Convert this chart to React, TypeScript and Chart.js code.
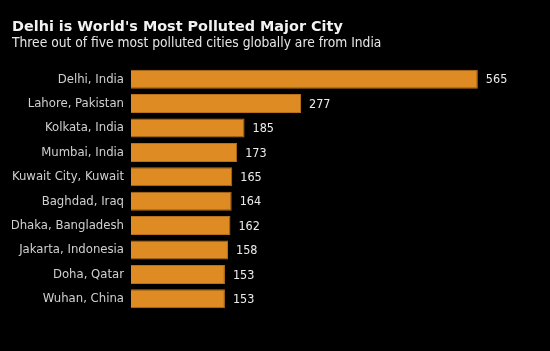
import React, { useEffect, useRef } from "react";
import { Chart, registerables } from "chart.js";

Chart.register(...registerables);

const TITLE = "Delhi is World's Most Polluted Major City";
const SUBTITLE = "Three out of five most polluted cities globally are from India";
const cities = [
  "Delhi, India",
  "Lahore, Pakistan",
  "Kolkata, India",
  "Mumbai, India",
  "Kuwait City, Kuwait",
  "Baghdad, Iraq",
  "Dhaka, Bangladesh",
  "Jakarta, Indonesia",
  "Doha, Qatar",
  "Wuhan, China",
];
const values = [565, 277, 185, 173, 165, 164, 162, 158, 153, 153];

const FONT = "'DejaVu Sans Condensed', 'DejaVu Sans', sans-serif";
const TFONT = "'DejaVu Sans', sans-serif";

export default function App() {
  const ref = useRef<HTMLCanvasElement | null>(null);
  useEffect(() => {
    document.body.style.margin = "0";
    document.body.style.background = "#000";
    const canvas = ref.current!;
    const textPlugin = {
      id: "texts",
      afterDraw(chart: any) {
        const ctx = chart.ctx;
        ctx.save();
        ctx.fillStyle = "#f2f2f2";
        ctx.textAlign = "left";
        ctx.textBaseline = "alphabetic";
        ctx.font = `bold 14.4px ${TFONT}`;
        ctx.fillText(TITLE, 12, 31);
        ctx.font = `13.7px ${FONT}`;
        ctx.fillStyle = "#e6e6e6";
        ctx.fillText(SUBTITLE, 12, 47);
        const meta = chart.getDatasetMeta(0);
        ctx.font = `12.5px ${FONT}`;
        ctx.fillStyle = "#ececec";
        ctx.textBaseline = "middle";
        meta.data.forEach((bar: any, i: number) => {
          ctx.fillText(String(values[i]), bar.x + 8, bar.y + 1);
        });
        ctx.restore();
      },
    };
    const chart = new Chart(canvas, {
      type: "bar",
      data: {
        labels: cities,
        datasets: [
          {
            data: values,
            backgroundColor: "#DE8B23",
            borderColor: "#B8711A",
            borderWidth: 1,
            barPercentage: 0.78,
            categoryPercentage: 1,
          },
        ],
      },
      options: {
        indexAxis: "y",
        animation: false,
        responsive: false,
        maintainAspectRatio: false,
        layout: { padding: { left: 12, right: 20, top: 67, bottom: 40 } },
        plugins: {
          legend: { display: false },
          tooltip: { enabled: false },
          title: { display: false },
        },
        scales: {
          x: { display: false, min: 0, max: 650 },
          y: {
            grid: { display: false, drawTicks: false },
            border: { display: false },
            ticks: {
              color: "#d0d0d0",
              font: { family: FONT, size: 13 },
              padding: 7,
            },
            afterFit(scale: any) {
              scale.width = 119;
            },
          },
        },
      },
      plugins: [textPlugin],
    });
    return () => chart.destroy();
  }, []);
  return (
    <div style={{ width: 550, height: 351, background: "#000" }}>
      <canvas ref={ref} width={550} height={351} />
    </div>
  );
}
